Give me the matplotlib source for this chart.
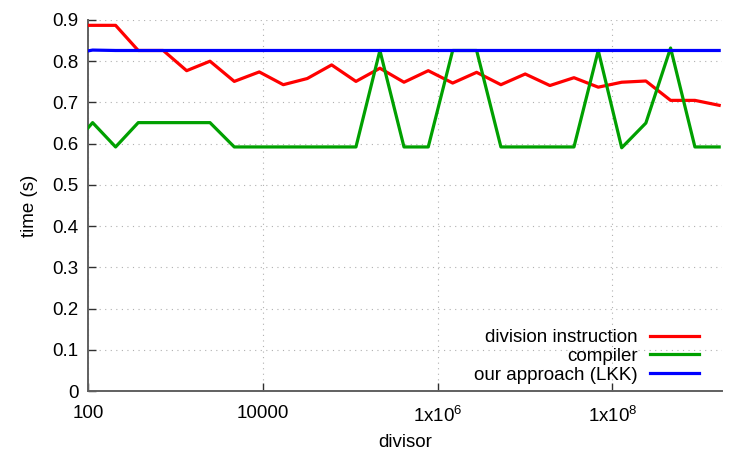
import numpy as np
import matplotlib
matplotlib.use('Agg')
import matplotlib.pyplot as plt

plt.rcParams['font.family'] = ['Liberation Sans', 'DejaVu Sans']
plt.rcParams['mathtext.fontset'] = 'custom'
plt.rcParams['mathtext.rm'] = 'Liberation Sans'

# divisors
divisor = [100, 113, 207, 376, 727, 1346, 2490, 4720, 9120, 17170, 32300,
           61400, 116500, 219000, 413000, 783000, 1.49e6, 2.80e6, 5.31e6,
           1.007e7, 1.93e7, 3.64e7, 6.90e7, 1.28e8, 2.42e8, 4.64e8, 8.81e8,
           1.67e9]

division_instr = [0.887, 0.887, 0.887, 0.826, 0.826, 0.777, 0.800, 0.751,
                  0.774, 0.743, 0.758, 0.791, 0.751, 0.783, 0.749, 0.777,
                  0.747, 0.773, 0.743, 0.769, 0.741, 0.760, 0.737, 0.749,
                  0.752, 0.705, 0.705, 0.693]

compiler = [0.638, 0.651, 0.592, 0.651, 0.651, 0.651, 0.651, 0.592,
            0.592, 0.592, 0.592, 0.592, 0.592, 0.826, 0.592, 0.592,
            0.826, 0.826, 0.592, 0.592, 0.592, 0.592, 0.826, 0.590,
            0.650, 0.832, 0.592, 0.592]

lkk = [0.825, 0.827, 0.826, 0.826, 0.826, 0.826, 0.826, 0.826,
       0.826, 0.826, 0.826, 0.826, 0.826, 0.826, 0.826, 0.826,
       0.826, 0.826, 0.826, 0.826, 0.826, 0.826, 0.826, 0.826,
       0.826, 0.826, 0.826, 0.826]

xticks = [100, 1e4, 1e6, 1e8]
xticklabels = ['100', '10000', r'1x10$^{\mathregular{6}}$', r'1x10$^{\mathregular{8}}$']
yticks = [0, 0.1, 0.2, 0.3, 0.4, 0.5, 0.6, 0.7, 0.8, 0.9]

fig = plt.figure(figsize=(7.5, 4.5), dpi=100)
ax = fig.add_axes([0.1173, 0.1311, 0.8454, 0.8245])

ax.plot(divisor, division_instr, color='#ff0000', lw=2.3, label='division instruction', zorder=3)
ax.plot(divisor, compiler, color='#00a000', lw=2.3, label='compiler', zorder=3)
ax.plot(divisor, lkk, color='#0000ff', lw=2.3, label='our approach (LKK)', zorder=3)

ax.set_xscale('log')
ax.set_xlim(100, 1.8e9)
ax.set_ylim(0, 0.9)
ax.set_xticks(xticks)
ax.set_xticklabels(xticklabels)
ax.minorticks_off()
ax.set_yticks(yticks)
ax.set_yticklabels(['0', '0.1', '0.2', '0.3', '0.4', '0.5', '0.6', '0.7', '0.8', '0.9'])

ax.grid(True, color='#b0b0b0', linestyle=(0, (1, 4)), linewidth=0.8)
ax.spines['top'].set_visible(False)
ax.spines['right'].set_visible(False)
for s in ['left', 'bottom']:
    ax.spines[s].set_color('#606060')
    ax.spines[s].set_linewidth(1.4)
ax.tick_params(direction='in', length=5.5, width=1.0, color='#303030',
               labelsize=13.5)
ax.tick_params(axis='y', pad=7)
ax.tick_params(axis='x', pad=10)

ax.set_xlabel('divisor', fontsize=13.5, labelpad=6)
ax.set_ylabel('time (s)', fontsize=13.5, labelpad=10)

leg = ax.legend(loc='lower right', frameon=False, markerfirst=False,
                fontsize=13.5, handlelength=2.6, handletextpad=0.65,
                labelspacing=0.08, borderaxespad=0.0,
                bbox_to_anchor=(0.975, 0.0))

fig.savefig('out.png', dpi=100)
